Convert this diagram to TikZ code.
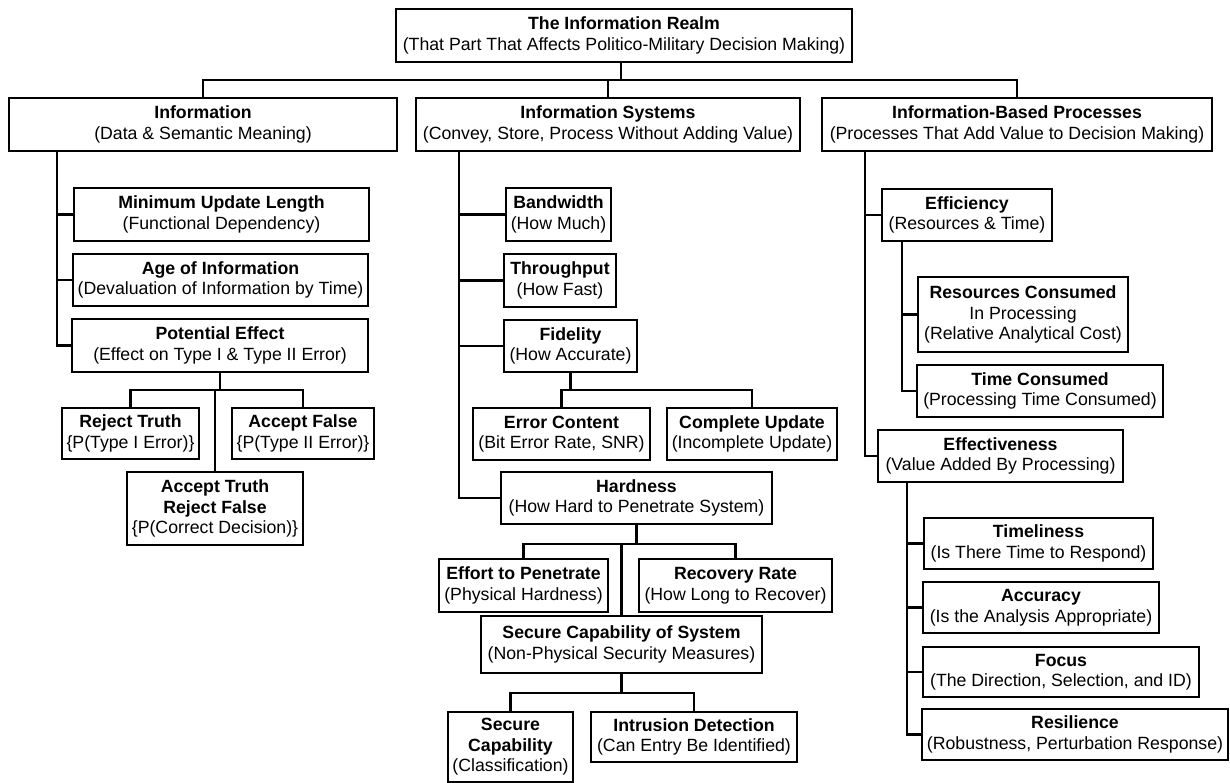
\documentclass[tikz,border=0pt]{standalone}
\usepackage{fontspec}
\setmainfont{Liberation Sans}
\begin{document}
\begin{tikzpicture}[x=1pt,y=-1pt,
  box/.style={draw, line width=1.6pt, align=center, inner sep=0pt,
    font=\fontsize{17.7}{20.5}\selectfont},
  conn/.style={line width=2.8pt}]
\useasboundingbox[fill=white] (0,0) rectangle (1230,783);

% ---- top two levels ----
\node[box, minimum width=456pt, minimum height=53pt] (top) at (624,35.5)
  {\textbf{The Information Realm}\\(That Part That Affects Politico-Military Decision Making)};
\node[box, minimum width=388pt, minimum height=53pt] (info) at (203,124.5)
  {\textbf{Information}\\(Data \& Semantic Meaning)};
\node[box, minimum width=384pt, minimum height=53pt] (infosys) at (608,124.5)
  {\textbf{Information Systems}\\(Convey, Store, Process Without Adding Value)};
\node[box, minimum width=390pt, minimum height=53pt] (ibp) at (1017,124.5)
  {\textbf{Information-Based Processes}\\(Processes That Add Value to Decision Making)};

% ---- information column ----
\node[box, minimum width=295pt, minimum height=53pt] (minupd) at (221.5,214.5)
  {\textbf{Minimum Update Length}\\(Functional Dependency)};
\node[box, minimum width=295pt, minimum height=52pt] (age) at (220.5,280)
  {\textbf{Age of Information}\\(Devaluation of Information by Time)};
\node[box, minimum width=296pt, minimum height=53pt] (poteff) at (220,345.5)
  {\textbf{Potential Effect}\\(Effect on Type I \& Type II Error)};
\node[box, minimum width=137pt, minimum height=51pt] (reject) at (130.5,433.5)
  {\textbf{Reject Truth}\\\{P(Type I Error)\}};
\node[box, minimum width=142pt, minimum height=51pt] (acceptf) at (303,433.5)
  {\textbf{Accept False}\\\{P(Type II Error)\}};
\node[box, minimum width=176pt, minimum height=73pt] (accepttr) at (215,508.5)
  {\textbf{Accept Truth}\\\textbf{Reject False}\\\{P(Correct Decision)\}};

% ---- information systems column ----
\node[box, minimum width=105pt, minimum height=53pt] (bandwidth) at (558.5,214.5)
  {\textbf{Bandwidth}\\(How Much)};
\node[box, minimum width=112pt, minimum height=53pt] (throughput) at (560,280.5)
  {\textbf{Throughput}\\(How Fast)};
\node[box, minimum width=133pt, minimum height=52pt] (fidelity) at (570.5,346)
  {\textbf{Fidelity}\\(How Accurate)};
\node[box, minimum width=177pt, minimum height=52pt] (errcont) at (561.5,434)
  {\textbf{Error Content}\\(Bit Error Rate, SNR)};
\node[box, minimum width=170pt, minimum height=52pt] (complupd) at (752,434)
  {\textbf{Complete Update}\\(Incomplete Update)};
\node[box, minimum width=271pt, minimum height=52pt] (hardness) at (636.5,498)
  {\textbf{Hardness}\\(How Hard to Penetrate System)};
\node[box, minimum width=169pt, minimum height=53pt] (effort) at (523.5,585.5)
  {\textbf{Effort to Penetrate}\\(Physical Hardness)};
\node[box, minimum width=193pt, minimum height=53pt] (recovery) at (735.5,585.5)
  {\textbf{Recovery Rate}\\(How Long to Recover)};
\node[box, minimum width=281pt, minimum height=57pt] (secsys) at (621.5,644.5)
  {\textbf{Secure Capability of System}\\(Non-Physical Security Measures)};
\node[box, minimum width=125pt, minimum height=70pt] (secure) at (510.5,747)
  {\textbf{Secure}\\\textbf{Capability}\\(Classification)};
\node[box, minimum width=206pt, minimum height=50pt] (intrusion) at (694,737)
  {\textbf{Intrusion Detection}\\(Can Entry Be Identified)};

% ---- information-based processes column ----
\node[box, minimum width=170pt, minimum height=52pt] (efficiency) at (967,215)
  {\textbf{Efficiency}\\(Resources \& Time)};
\node[box, minimum width=210pt, minimum height=75pt] (rescons) at (1023,314.5)
  {\textbf{Resources Consumed}\\In Processing\\(Relative Analytical Cost)};
\node[box, minimum width=246pt, minimum height=52pt] (timecons) at (1040,391)
  {\textbf{Time Consumed}\\(Processing Time Consumed)};
\node[box, minimum width=245pt, minimum height=52pt] (effectiveness) at (1000.5,456)
  {\textbf{Effectiveness}\\(Value Added By Processing)};
\node[box, minimum width=229pt, minimum height=51pt] (timeliness) at (1038.5,543.5)
  {\textbf{Timeliness}\\(Is There Time to Respond)};
\node[box, minimum width=236pt, minimum height=51pt] (accuracy) at (1041,607.5)
  {\textbf{Accuracy}\\(Is the Analysis Appropriate)};
\node[box, minimum width=276pt, minimum height=50pt] (focus) at (1061,672)
  {\textbf{Focus}\\(The Direction, Selection, and ID)};
\node[box, minimum width=306pt, minimum height=51pt] (resilience) at (1075,734.5)
  {\textbf{Resilience}\\(Robustness, Perturbation Response)};

% ---- bus lines ----
\coordinate (bus) at (0,80);
\coordinate (pbus) at (0,390);
\coordinate (fbus) at (0,390);
\coordinate (hbus) at (0,544);
\coordinate (sbus) at (0,693);

% top level
\draw[conn] (top.south -| 621,0) -- (621,0 |- bus);
\draw[conn] (info.north) |- (ibp.north |- bus) -- (ibp.north);
\draw[conn] (infosys.north |- bus) -- (infosys.north);

% information spine
\draw[conn] (info.south -| 57,0) |- (poteff.west);
\draw[conn] (minupd.west -| 57,0) -- (minupd.west);
\draw[conn] (age.west -| 57,0) -- (age.west);
\draw[conn] (poteff.south) -- (poteff.south |- pbus);
\draw[conn] (reject.north) |- (acceptf.north |- pbus) -- (acceptf.north);
\draw[conn] (accepttr.north |- pbus) -- (accepttr.north);

% information systems spine
\draw[conn] (infosys.south -| 459,0) |- (hardness.west);
\draw[conn] (bandwidth.west -| 459,0) -- (bandwidth.west);
\draw[conn] (throughput.west -| 459,0) -- (throughput.west);
\draw[conn] (fidelity.west -| 459,0) -- (fidelity.west);
\draw[conn] (fidelity.south) -- (fidelity.south |- fbus);
\draw[conn] (errcont.north) |- (complupd.north |- fbus) -- (complupd.north);
\draw[conn] (hardness.south) -- (hardness.south |- hbus);
\draw[conn] (effort.north) |- (recovery.north |- hbus) -- (recovery.north);
\draw[conn] (secsys.north |- hbus) -- (secsys.north);
\draw[conn] (secsys.south) -- (secsys.south |- sbus);
\draw[conn] (secure.north) |- (intrusion.north |- sbus) -- (intrusion.north);

% information-based processes spine
\draw[conn] (ibp.south -| 865,0) |- (effectiveness.west);
\draw[conn] (efficiency.west -| 865,0) -- (efficiency.west);
\draw[conn] (efficiency.south -| 902,0) |- (timecons.west);
\draw[conn] (rescons.west -| 902,0) -- (rescons.west);
\draw[conn] (effectiveness.south -| 907,0) |- (resilience.west);
\draw[conn] (timeliness.west -| 907,0) -- (timeliness.west);
\draw[conn] (accuracy.west -| 907,0) -- (accuracy.west);
\draw[conn] (focus.west -| 907,0) -- (focus.west);
\end{tikzpicture}
\end{document}
